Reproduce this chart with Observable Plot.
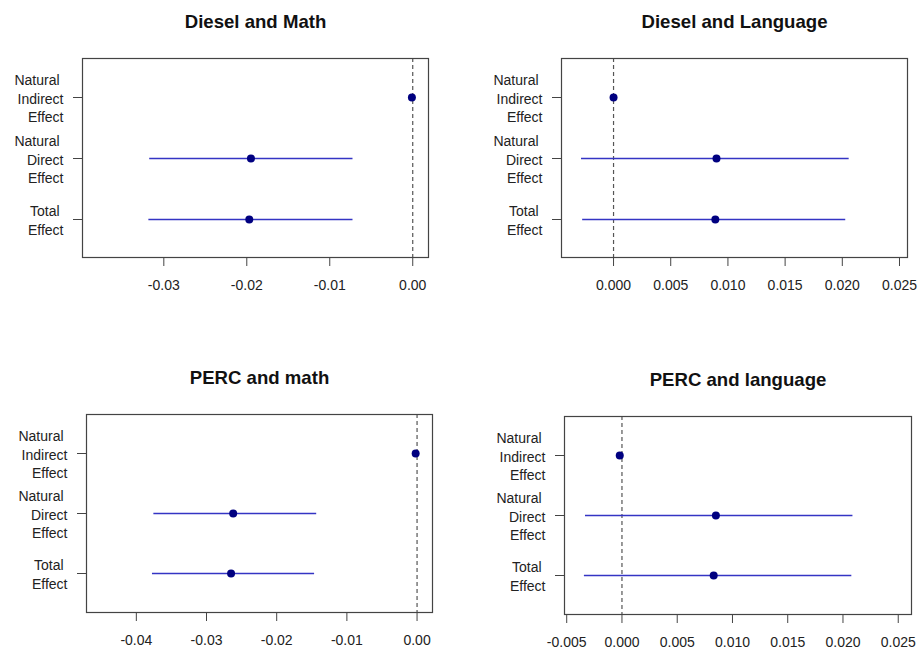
<!DOCTYPE html>
<html>
<head>
<meta charset="utf-8">
<script src="https://cdn.jsdelivr.net/npm/d3@7"></script>
<script src="https://cdn.jsdelivr.net/npm/@observablehq/plot@0.6"></script>
<style>
  html, body { margin: 0; padding: 0; background: #fff; }
  #root { position: relative; width: 919px; height: 652px; overflow: hidden; background: #fff; }
  .panel { position: absolute; }
</style>
</head>
<body>
<div id="root"></div>
<script>
// ---- Data ----
const effects = ["Natural Indirect Effect", "Natural Direct Effect", "Total Effect"];
const effectLabels = ["Natural\u00a0\nIndirect\nEffect", "Natural\u00a0\nDirect\nEffect", "Total\u00a0\nEffect"];
const titles = ["Diesel and Math", "Diesel and Language", "PERC and math", "PERC and language"];

const dieselMathEst = [-0.0001, -0.0195, -0.0197];
const dieselMathLo  = [-0.0002, -0.0317, -0.0318];
const dieselMathHi  = [ 0.0000, -0.0072, -0.0072];

const dieselLangEst = [ 0.0000, 0.0090, 0.0089];
const dieselLangLo  = [-0.0001, -0.0028, -0.0027];
const dieselLangHi  = [ 0.0001, 0.0206, 0.0203];

const percMathEst = [-0.0002, -0.0262, -0.0265];
const percMathLo  = [-0.0004, -0.0375, -0.0377];
const percMathHi  = [ 0.0000, -0.0143, -0.0146];

const percLangEst = [-0.0002, 0.0085, 0.0083];
const percLangLo  = [-0.0003, -0.0033, -0.0034];
const percLangHi  = [-0.0001, 0.0209, 0.0208];

const mathTicks1 = [-0.03, -0.02, -0.01, 0.00];
const mathTickLabels1 = ["-0.03", "-0.02", "-0.01", "0.00"];
const langTicks1 = [0.000, 0.005, 0.010, 0.015, 0.020, 0.025];
const langTickLabels1 = ["0.000", "0.005", "0.010", "0.015", "0.020", "0.025"];
const mathTicks2 = [-0.04, -0.03, -0.02, -0.01, 0.00];
const mathTickLabels2 = ["-0.04", "-0.03", "-0.02", "-0.01", "0.00"];
const langTicks2 = [-0.005, 0.000, 0.005, 0.010, 0.015, 0.020, 0.025];
const langTickLabels2 = ["-0.005", "0.000", "0.005", "0.010", "0.015", "0.020", "0.025"];

const refLine = [0];

// ---- Panels ----
const panels = [
  {title: titles[0], est: dieselMathEst, lo: dieselMathLo, hi: dieselMathHi, ticks: mathTicks1, labels: mathTickLabels1,
   domain: [-0.0398, 0.0019], left: 0, top: 0, width: 459, mL: 82, mR: 31, mT: 58, mB: 69},
  {title: titles[1], est: dieselLangEst, lo: dieselLangLo, hi: dieselLangHi, ticks: langTicks1, labels: langTickLabels1,
   domain: [-0.00455, 0.0257], left: 459, top: 0, width: 460, mL: 102, mR: 12, mT: 58, mB: 69},
  {title: titles[2], est: percMathEst, lo: percMathLo, hi: percMathHi, ticks: mathTicks2, labels: mathTickLabels2,
   domain: [-0.0471, 0.0022], left: 0, top: 326, width: 459, mL: 86, mR: 27, mT: 88, mB: 40},
  {title: titles[3], est: percLangEst, lo: percLangLo, hi: percLangHi, ticks: langTicks2, labels: langTickLabels2,
   domain: [-0.0052, 0.0262], left: 459, top: 326, width: 460, mL: 105, mR: 8, mT: 90, mB: 38}
];

const root = document.getElementById("root");
for (const p of panels) {
  const rows = effects.map((e, i) => ({effect: e, est: p.est[i], lo: p.lo[i], hi: p.hi[i]}));
  const labelOf = new Map(effects.map((e, i) => [e, effectLabels[i]]));
  const tickLabelOf = new Map(p.ticks.map((t, i) => [t, p.labels[i]]));
  const chart = Plot.plot({
    width: p.width,
    height: 326,
    marginLeft: p.mL, marginRight: p.mR, marginTop: p.mT, marginBottom: p.mB,
    style: {fontFamily: "'Liberation Sans', Arial, Helvetica, sans-serif", fontSize: "14px", color: "#222", background: "#fff"},
    x: {domain: p.domain, axis: null},
    y: {type: "point", domain: effects, padding: 0.63, axis: null},
    marks: [
      Plot.ruleX(refLine, {stroke: "#555", strokeDasharray: "4,3", strokeWidth: 1.2}),
      Plot.ruleY(rows, {y: "effect", x1: "lo", x2: "hi", stroke: "#3434c4", strokeWidth: 1.6}),
      Plot.dot(rows, {x: "est", y: "effect", r: 4, fill: "#000080", stroke: "none"}),
      Plot.frame({stroke: "#444", strokeWidth: 1.2}),
      Plot.axisX({ticks: p.ticks, tickFormat: d => tickLabelOf.get(d), tickSize: 9, tickPadding: 14, stroke: "#444", fontSize: 14, label: null}),
      Plot.axisY({tickFormat: d => labelOf.get(d), tickSize: 9, tickPadding: 10, lineHeight: 1.35, stroke: "#444", fontSize: 14, textAnchor: "end", label: null}),
      Plot.text([p.title], {frameAnchor: "top", dy: -31, lineAnchor: "bottom", fontSize: 18.6, fontWeight: "bold", fill: "#111"})
    ]
  });
  const div = document.createElement("div");
  div.className = "panel";
  div.style.left = p.left + "px";
  div.style.top = p.top + "px";
  div.appendChild(chart);
  root.appendChild(div);
}
</script>
</body>
</html>
